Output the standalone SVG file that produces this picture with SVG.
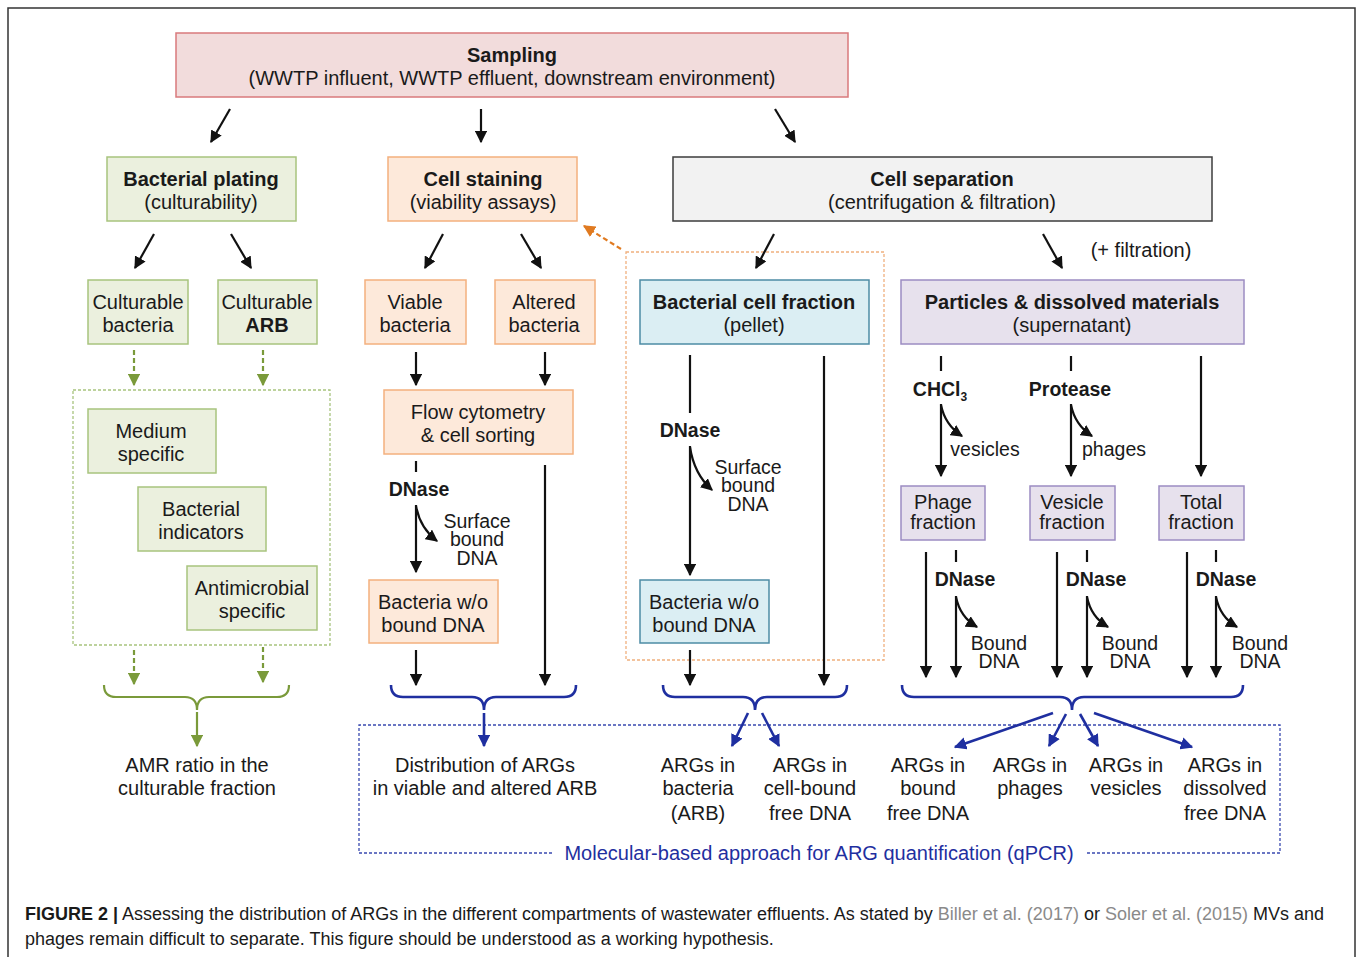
<svg xmlns="http://www.w3.org/2000/svg" width="1358" height="957" viewBox="0 0 1358 957">
<style>
text{font-family:"Liberation Sans",Arial,sans-serif;fill:#1a1a1a;}
.t{font-size:20px;text-anchor:middle;}
.b{font-weight:bold;}
.s{font-size:19.5px;}
.bl{fill:#1f2fa0;}
.ln{stroke:#111;stroke-width:2.2;fill:none;}
.gr{stroke:#7a9a3a;stroke-width:2.2;fill:none;}
.bu{stroke:#1f2fa0;stroke-width:2.6;fill:none;}
.pink{fill:#f2dcdc;stroke:#d97a7c;stroke-width:1.5;}
.green{fill:#ebf0de;stroke:#a8c47e;stroke-width:1.5;}
.orange{fill:#fde9da;stroke:#f3b07e;stroke-width:1.5;}
.gray{fill:#f2f2f2;stroke:#3c3c3c;stroke-width:1.5;}
.blue{fill:#dbeef3;stroke:#4d8ca5;stroke-width:1.5;}
.purple{fill:#e7e1ed;stroke:#9c8cc2;stroke-width:1.5;}
.cap{font-size:18px;}
.ref{fill:#8a8a8a;}
</style>
<defs>
<marker id="ah" viewBox="0 0 10 10" refX="9" refY="5" markerWidth="5.5" markerHeight="5.5" orient="auto" markerUnits="strokeWidth"><path d="M0,0 L10,5 L0,10 z" fill="#111"/></marker>
<marker id="ahg" viewBox="0 0 10 10" refX="9" refY="5" markerWidth="5.5" markerHeight="5.5" orient="auto" markerUnits="strokeWidth"><path d="M0,0 L10,5 L0,10 z" fill="#7a9a3a"/></marker>
<marker id="ahb" viewBox="0 0 10 10" refX="9" refY="5" markerWidth="4.8" markerHeight="4.8" orient="auto" markerUnits="strokeWidth"><path d="M0,0 L10,5 L0,10 z" fill="#1f2fa0"/></marker>
<marker id="aho" viewBox="0 0 10 10" refX="9" refY="5" markerWidth="5.5" markerHeight="5.5" orient="auto" markerUnits="strokeWidth"><path d="M0,0 L10,5 L0,10 z" fill="#e07a20"/></marker>
</defs>
<rect x="0" y="0" width="1358" height="957" fill="#fff"/>
<rect x="8" y="8" width="1347" height="965" fill="none" stroke="#333" stroke-width="1.5"/>

<!-- background frames -->
<g id="green-frame"><rect x="73" y="390" width="257" height="255" fill="none" stroke="#a8c47e" stroke-width="1.3" stroke-dasharray="3,2"/></g>
<g id="orange-frame"><rect x="626" y="252" width="258" height="408" fill="none" stroke="#f0b07e" stroke-width="1.3" stroke-dasharray="3,2"/></g>
<g id="qpcr-frame">
<path d="M552,853 L359,853 L359,725 L1280,725 L1280,853 L1087,853" fill="none" stroke="#3a4ab0" stroke-width="1.3" stroke-dasharray="3,2"/>
<text x="819" y="860" class="t bl">Molecular-based approach for ARG quantification (qPCR)</text>
</g>

<!-- nodes -->
<g id="sampling"><rect x="176" y="33" width="672" height="64" class="pink"/>
<text x="512" y="62" class="t b">Sampling</text><text x="512" y="85" class="t">(WWTP influent, WWTP effluent, downstream environment)</text></g>

<g id="plating"><rect x="107" y="157" width="189" height="64" class="green"/>
<text x="201" y="186" class="t b">Bacterial plating</text><text x="201" y="209" class="t">(culturability)</text></g>
<g id="staining"><rect x="388" y="157" width="189" height="64" class="orange"/>
<text x="483" y="186" class="t b">Cell staining</text><text x="483" y="209" class="t">(viability assays)</text></g>
<g id="separation"><rect x="673" y="157" width="539" height="64" class="gray"/>
<text x="942" y="186" class="t b">Cell separation</text><text x="942" y="209" class="t">(centrifugation &amp; filtration)</text></g>

<g id="cult-bact"><rect x="88" y="280" width="100" height="64" class="green"/>
<text x="138" y="309" class="t">Culturable</text><text x="138" y="332" class="t">bacteria</text></g>
<g id="cult-arb"><rect x="218" y="280" width="99" height="64" class="green"/>
<text x="267" y="309" class="t">Culturable</text><text x="267" y="332" class="t b">ARB</text></g>
<g id="viable"><rect x="365" y="280" width="101" height="64" class="orange"/>
<text x="415" y="309" class="t">Viable</text><text x="415" y="332" class="t">bacteria</text></g>
<g id="altered"><rect x="495" y="280" width="100" height="64" class="orange"/>
<text x="544" y="309" class="t">Altered</text><text x="544" y="332" class="t">bacteria</text></g>
<g id="bact-cell"><rect x="640" y="280" width="229" height="64" class="blue"/>
<text x="754" y="309" class="t b">Bacterial cell fraction</text><text x="754" y="332" class="t">(pellet)</text></g>
<g id="particles"><rect x="901" y="280" width="343" height="64" class="purple"/>
<text x="1072" y="309" class="t b">Particles &amp; dissolved materials</text><text x="1072" y="332" class="t">(supernatant)</text></g>

<g id="medium"><rect x="88" y="409" width="128" height="64" class="green"/>
<text x="151" y="438" class="t">Medium</text><text x="151" y="461" class="t">specific</text></g>
<g id="indicators"><rect x="138" y="487" width="128" height="64" class="green"/>
<text x="201" y="516" class="t">Bacterial</text><text x="201" y="539" class="t">indicators</text></g>
<g id="antimicrobial"><rect x="187" y="566" width="130" height="64" class="green"/>
<text x="252" y="595" class="t">Antimicrobial</text><text x="252" y="618" class="t">specific</text></g>

<g id="flow"><rect x="384" y="390" width="189" height="64" class="orange"/>
<text x="478" y="419" class="t">Flow cytometry</text><text x="478" y="442" class="t">&amp; cell sorting</text></g>
<g id="bact-wo-1"><rect x="369" y="580" width="129" height="63" class="orange"/>
<text x="433" y="609" class="t">Bacteria w/o</text><text x="433" y="632" class="t">bound DNA</text></g>
<g id="bact-wo-2"><rect x="640" y="580" width="129" height="63" class="blue"/>
<text x="704" y="609" class="t">Bacteria w/o</text><text x="704" y="632" class="t">bound DNA</text></g>

<g id="phage-frac"><rect x="901" y="486" width="84" height="54" class="purple"/>
<text x="943" y="509" class="t">Phage</text><text x="943" y="529" class="t">fraction</text></g>
<g id="vesicle-frac"><rect x="1030" y="486" width="85" height="54" class="purple"/>
<text x="1072" y="509" class="t">Vesicle</text><text x="1072" y="529" class="t">fraction</text></g>
<g id="total-frac"><rect x="1159" y="486" width="85" height="54" class="purple"/>
<text x="1201" y="509" class="t">Total</text><text x="1201" y="529" class="t">fraction</text></g>

<!-- labels -->
<g id="labels">
<text x="1141" y="257" class="t">(+ filtration)</text>
<text x="419" y="496" class="t b s">DNase</text>
<text x="477" y="528" class="t s">Surface</text><text x="477" y="546" class="t s">bound</text><text x="477" y="565" class="t s">DNA</text>
<text x="690" y="437" class="t b s">DNase</text>
<text x="748" y="474" class="t s">Surface</text><text x="748" y="492" class="t s">bound</text><text x="748" y="511" class="t s">DNA</text>
<text x="940" y="396" class="t b s">CHCl<tspan font-size="12" dy="5">3</tspan></text>
<text x="1070" y="396" class="t b s">Protease</text>
<text x="985" y="456" class="t s">vesicles</text>
<text x="1114" y="456" class="t s">phages</text>
<text x="965" y="586" class="t b s">DNase</text><text x="999" y="650" class="t s">Bound</text><text x="999" y="668" class="t s">DNA</text>
<text x="1096" y="586" class="t b s">DNase</text><text x="1130" y="650" class="t s">Bound</text><text x="1130" y="668" class="t s">DNA</text>
<text x="1226" y="586" class="t b s">DNase</text><text x="1260" y="650" class="t s">Bound</text><text x="1260" y="668" class="t s">DNA</text>
</g>

<g id="outputs">
<text x="197" y="772" class="t">AMR ratio in the</text><text x="197" y="795" class="t">culturable fraction</text>
<text x="485" y="772" class="t">Distribution of ARGs</text><text x="485" y="795" class="t">in viable and altered ARB</text>
<text x="698" y="772" class="t">ARGs in</text><text x="698" y="795" class="t">bacteria</text><text x="698" y="820" class="t">(ARB)</text>
<text x="810" y="772" class="t">ARGs in</text><text x="810" y="795" class="t">cell-bound</text><text x="810" y="820" class="t">free DNA</text>
<text x="928" y="772" class="t">ARGs in</text><text x="928" y="795" class="t">bound</text><text x="928" y="820" class="t">free DNA</text>
<text x="1030" y="772" class="t">ARGs in</text><text x="1030" y="795" class="t">phages</text>
<text x="1126" y="772" class="t">ARGs in</text><text x="1126" y="795" class="t">vesicles</text>
<text x="1225" y="772" class="t">ARGs in</text><text x="1225" y="795" class="t">dissolved</text><text x="1225" y="820" class="t">free DNA</text>
</g>

<!-- connectors -->
<g id="connectors">
<path class="ln" marker-end="url(#ah)" d="M230,109 L211,142"/>
<path class="ln" marker-end="url(#ah)" d="M481,109 L481,142"/>
<path class="ln" marker-end="url(#ah)" d="M775,109 L795,142"/>
<path class="ln" marker-end="url(#ah)" d="M154,234 L135,268"/>
<path class="ln" marker-end="url(#ah)" d="M231,234 L251,268"/>
<path class="ln" marker-end="url(#ah)" d="M443,234 L425,268"/>
<path class="ln" marker-end="url(#ah)" d="M521,234 L541,268"/>
<path class="ln" marker-end="url(#ah)" d="M774,234 L756,268"/>
<path class="ln" marker-end="url(#ah)" d="M1043,234 L1062,268"/>
<path d="M621,249 L584,226" stroke="#e07a20" stroke-width="2.2" stroke-dasharray="5,3" fill="none" marker-end="url(#aho)"/>

<path class="gr" stroke-dasharray="5,3" marker-end="url(#ahg)" d="M134,350 L134,385"/>
<path class="gr" stroke-dasharray="5,3" marker-end="url(#ahg)" d="M263,350 L263,385"/>
<path class="gr" stroke-dasharray="5,3" marker-end="url(#ahg)" d="M134,650 L134,684"/>
<path class="gr" stroke-dasharray="5,3" marker-end="url(#ahg)" d="M263,647 L263,682"/>

<path class="ln" marker-end="url(#ah)" d="M416,352 L416,385"/>
<path class="ln" marker-end="url(#ah)" d="M545,352 L545,385"/>
<path class="ln" d="M416,461 L416,472"/>
<path class="ln" marker-end="url(#ah)" d="M416,505 L416,572"/>
<path class="ln" marker-end="url(#ah)" d="M416,506 Q420,528 437,541"/>
<path class="ln" marker-end="url(#ah)" d="M545,465 L545,685"/>
<path class="ln" marker-end="url(#ah)" d="M416,650 L416,685"/>

<path class="ln" d="M690,355 L690,413"/>
<path class="ln" marker-end="url(#ah)" d="M690,446 L690,575"/>
<path class="ln" marker-end="url(#ah)" d="M690,447 Q694,474 712,490"/>
<path class="ln" marker-end="url(#ah)" d="M824,356 L824,685"/>
<path class="ln" marker-end="url(#ah)" d="M690,650 L690,685"/>

<path class="ln" d="M941,356 L941,371"/>
<path class="ln" marker-end="url(#ah)" d="M941,404 L941,476"/>
<path class="ln" marker-end="url(#ah)" d="M941,405 Q945,425 962,436"/>
<path class="ln" d="M1071,356 L1071,371"/>
<path class="ln" marker-end="url(#ah)" d="M1071,404 L1071,476"/>
<path class="ln" marker-end="url(#ah)" d="M1071,405 Q1075,425 1092,436"/>
<path class="ln" marker-end="url(#ah)" d="M1201,356 L1201,476"/>

<path class="ln" marker-end="url(#ah)" d="M926,552 L926,677"/>
<path class="ln" d="M956,550 L956,562"/>
<path class="ln" marker-end="url(#ah)" d="M956,596 L956,677"/>
<path class="ln" marker-end="url(#ah)" d="M956,597 Q960,617 977,627"/>
<path class="ln" marker-end="url(#ah)" d="M1057,552 L1057,677"/>
<path class="ln" d="M1087,550 L1087,562"/>
<path class="ln" marker-end="url(#ah)" d="M1087,596 L1087,677"/>
<path class="ln" marker-end="url(#ah)" d="M1087,597 Q1091,617 1108,627"/>
<path class="ln" marker-end="url(#ah)" d="M1187,552 L1187,677"/>
<path class="ln" d="M1216,550 L1216,562"/>
<path class="ln" marker-end="url(#ah)" d="M1216,596 L1216,677"/>
<path class="ln" marker-end="url(#ah)" d="M1216,597 Q1220,617 1237,627"/>

<!-- braces -->
<path class="gr" stroke-width="2.6" d="M104,685 Q104,697 116,697 L185,697 Q197,697 197,710 Q197,697 209,697 L277,697 Q289,697 289,685"/>
<path class="gr" stroke-width="2.6" marker-end="url(#ahg)" d="M197,712 L197,746"/>
<path class="bu" d="M391,685 Q391,697 403,697 L472,697 Q484,697 484,710 Q484,697 496,697 L564,697 Q576,697 576,685"/>
<path class="bu" marker-end="url(#ahb)" d="M484,713 L484,746"/>
<path class="bu" d="M663,685 Q663,697 675,697 L743,697 Q755,697 755,710 Q755,697 767,697 L835,697 Q847,697 847,685"/>
<path class="bu" marker-end="url(#ahb)" d="M748,713 L732,746"/>
<path class="bu" marker-end="url(#ahb)" d="M762,713 L779,746"/>
<path class="bu" d="M902,685 Q902,697 914,697 L1060,697 Q1072,697 1072,710 Q1072,697 1084,697 L1231,697 Q1243,697 1243,685"/>
<path class="bu" marker-end="url(#ahb)" d="M1053,713 L955,747"/>
<path class="bu" marker-end="url(#ahb)" d="M1066,714 L1049,746"/>
<path class="bu" marker-end="url(#ahb)" d="M1080,714 L1098,746"/>
<path class="bu" marker-end="url(#ahb)" d="M1094,713 L1192,747"/>
</g>

<g id="caption">
<text x="25" y="920" class="cap"><tspan font-weight="bold">FIGURE 2 |</tspan> Assessing the distribution of ARGs in the different compartments of wastewater effluents. As stated by <tspan class="ref">Biller et al. (2017)</tspan> or <tspan class="ref">Soler et al. (2015)</tspan> MVs and</text>
<text x="25" y="945" class="cap">phages remain difficult to separate. This figure should be understood as a working hypothesis.</text>
</g>
</svg>
